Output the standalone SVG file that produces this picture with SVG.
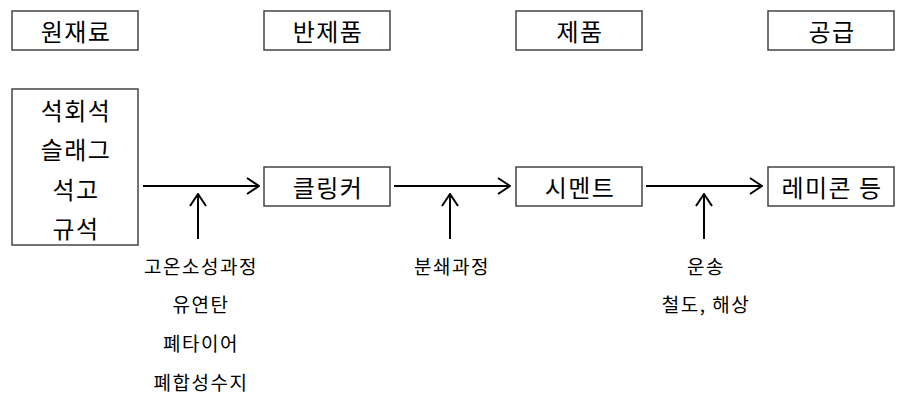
<svg xmlns="http://www.w3.org/2000/svg" width="906" height="403" viewBox="0 0 906 403">
<style>
.box{fill:#fff;stroke:#444;stroke-width:1.5}
.t{font-family:"Noto Sans CJK KR","Noto Sans",sans-serif;font-size:24px;letter-spacing:1.5px;fill:#000;text-anchor:middle;dominant-baseline:central}
.s{font-family:"Noto Sans CJK KR","Noto Sans",sans-serif;font-size:19px;letter-spacing:1.5px;fill:#000;text-anchor:middle;dominant-baseline:central}
.ln{stroke:#000;stroke-width:2;fill:none}
</style>
<defs>
<marker id="ah" viewBox="0 0 14 18" refX="13" refY="9" markerWidth="14" markerHeight="18" markerUnits="userSpaceOnUse" orient="auto">
<path d="M1,1 L13,9 L1,17" fill="none" stroke="#000" stroke-width="2"/>
</marker>
</defs>
<g id="h1"><rect class="box" x="12" y="11" width="126" height="39"/><text class="t" x="76" y="30">원재료</text></g>
<g id="h2"><rect class="box" x="264" y="11" width="126" height="39"/><text class="t" x="328" y="30">반제품</text></g>
<g id="h3"><rect class="box" x="516" y="11" width="126" height="39"/><text class="t" x="580" y="30">제품</text></g>
<g id="h4"><rect class="box" x="768" y="11" width="126" height="39"/><text class="t" x="832" y="30">공급</text></g>
<g id="raw"><rect class="box" x="12" y="89" width="126" height="156"/>
<text class="t" x="76" y="109">석회석</text>
<text class="t" x="76" y="148">슬래그</text>
<text class="t" x="76" y="188">석고</text>
<text class="t" x="76" y="227">규석</text></g>
<g id="clinker"><rect class="box" x="264" y="167" width="126" height="39"/><text class="t" x="328" y="186">클링커</text></g>
<g id="cement"><rect class="box" x="516" y="167" width="126" height="39"/><text class="t" x="580" y="186">시멘트</text></g>
<g id="remicon"><rect class="box" x="768" y="167" width="126" height="39"/><text class="t" x="832" y="186">레미콘 등</text></g>
<g id="connectors">
<line class="ln" x1="143" y1="186" x2="259" y2="186" marker-end="url(#ah)"/>
<line class="ln" x1="394" y1="186" x2="510" y2="186" marker-end="url(#ah)"/>
<line class="ln" x1="646" y1="186" x2="762" y2="186" marker-end="url(#ah)"/>
<line class="ln" x1="198" y1="239" x2="198" y2="194" marker-end="url(#ah)"/>
<line class="ln" x1="450" y1="239" x2="450" y2="194" marker-end="url(#ah)"/>
<line class="ln" x1="704" y1="239" x2="704" y2="194" marker-end="url(#ah)"/>
</g>
<g id="labels">
<text class="s" x="201" y="265">고온소성과정</text>
<text class="s" x="201" y="303">유연탄</text>
<text class="s" x="201" y="342">폐타이어</text>
<text class="s" x="201" y="381">폐합성수지</text>
<text class="s" x="452" y="265">분쇄과정</text>
<text class="s" x="706" y="265">운송</text>
<text class="s" x="706" y="303">철도, 해상</text>
</g>
</svg>
